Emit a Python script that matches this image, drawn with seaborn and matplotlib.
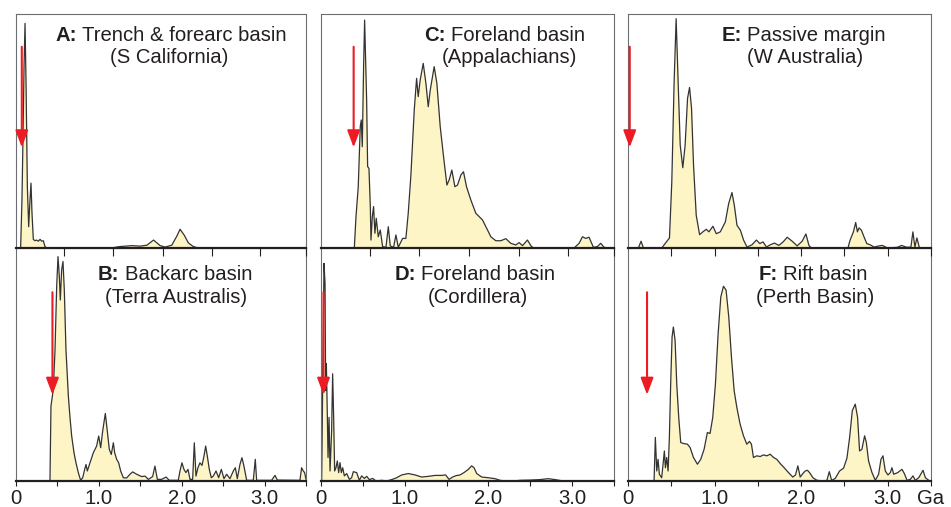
import matplotlib
matplotlib.use("Agg")
import matplotlib.pyplot as plt
import pandas as pd
import seaborn as sns

# ---------------- data (age in Ga, relative probability density) ----------------
age_A = [0.056, 0.072, 0.084, 0.097, 0.109, 0.121, 0.137, 0.153, 0.169, 0.181, 0.193, 0.209,
         0.229, 0.249, 0.27, 0.29, 0.31, 0.33, 0.35, 0.37, 0.6, 1.15, 1.25, 1.4, 1.5, 1.58,
         1.66, 1.74, 1.8, 1.88, 1.94, 1.98, 2.03, 2.08, 2.14, 2.2, 3.5]
dens_A = [0, 0.206, 0.463, 0.777, 0.96, 0.706, 0.263, 0.091, 0.206, 0.277, 0.149, 0.037,
          0.031, 0.034, 0.029, 0.037, 0.029, 0.031, 0.006, 0, 0, 0, 0.006, 0.01, 0.008, 0.012,
          0.034, 0.01, 0.004, 0.012, 0.05, 0.08, 0.055, 0.022, 0.006, 0, 0]

age_B = [0.41, 0.422, 0.45, 0.471, 0.491, 0.507, 0.523, 0.535, 0.551, 0.567, 0.583, 0.603,
         0.632, 0.652, 0.672, 0.7, 0.724, 0.752, 0.78, 0.805, 0.829, 0.845, 0.861, 0.893,
         0.933, 0.973, 0.998, 1.022, 1.046, 1.078, 1.102, 1.126, 1.15, 1.175, 1.191, 1.215,
         1.239, 1.263, 1.295, 1.335, 1.376, 1.408, 1.456, 1.516, 1.557, 1.597, 1.649, 1.677,
         1.706, 1.758, 1.81, 1.85, 1.959, 1.979, 2.003, 2.027, 2.051, 2.076, 2.1, 2.132,
         2.152, 2.172, 2.196, 2.22, 2.245, 2.269, 2.289, 2.309, 2.333, 2.357, 2.381, 2.414,
         2.446, 2.478, 2.51, 2.542, 2.582, 2.623, 2.647, 2.671, 2.703, 2.727, 2.751, 2.784,
         2.864, 2.888, 2.904, 3.085, 3.126, 3.154, 3.427, 3.447, 3.467, 3.483, 3.5]
dens_B = [0, 0.321, 0.392, 0.563, 0.835, 0.963, 0.877, 0.777, 0.906, 0.942, 0.82, 0.563,
          0.364, 0.271, 0.193, 0.121, 0.078, 0.036, 0.003, 0.014, 0.05, 0.071, 0.043, 0.078,
          0.121, 0.15, 0.193, 0.143, 0.214, 0.29, 0.214, 0.136, 0.114, 0.164, 0.121, 0.093,
          0.078, 0.043, 0.014, 0.013, 0.029, 0.039, 0.029, 0.019, 0.021, 0.007, 0.019, 0.064,
          0.007, 0.007, 0.017, 0.003, 0.003, 0.043, 0.078, 0.05, 0.036, 0.05, 0.007, 0.007,
          0.164, 0.021, 0.057, 0.078, 0.067, 0.107, 0.15, 0.107, 0.05, 0.014, 0.021, 0.043,
          0.014, 0.05, 0.01, 0.029, 0.01, 0.043, 0.057, 0.01, 0.071, 0.1, 0.064, 0.003,
          0.003, 0.093, 0.003, 0.003, 0.024, 0.004, 0.003, 0.057, 0.043, 0.036, 0.007]

age_C = [0.398, 0.418, 0.445, 0.469, 0.481, 0.493, 0.509, 0.521, 0.545, 0.557, 0.573, 0.589,
         0.597, 0.613, 0.628, 0.644, 0.66, 0.684, 0.708, 0.736, 0.776, 0.804, 0.827, 0.867,
         0.895, 0.923, 0.975, 1.014, 1.042, 1.074, 1.114, 1.142, 1.161, 1.185, 1.221, 1.253,
         1.281, 1.305, 1.352, 1.384, 1.424, 1.464, 1.504, 1.531, 1.563, 1.599, 1.631, 1.671,
         1.702, 1.738, 1.79, 1.85, 1.929, 1.989, 2.029, 2.088, 2.148, 2.208, 2.267, 2.327,
         2.367, 2.407, 2.466, 2.514, 2.546, 3.023, 3.083, 3.123, 3.162, 3.202, 3.254, 3.302,
         3.341, 3.381, 3.42]
dens_C = [0, 0.134, 0.262, 0.519, 0.547, 0.433, 0.775, 0.974, 0.632, 0.348, 0.34, 0.177,
          0.034, 0.134, 0.177, 0.063, 0.127, 0.048, 0.077, 0.006, 0.003, 0.091, 0.009, 0.003,
          0.056, 0.003, 0.041, 0.041, 0.148, 0.312, 0.59, 0.725, 0.647, 0.718, 0.789, 0.704,
          0.604, 0.675, 0.775, 0.704, 0.519, 0.39, 0.269, 0.291, 0.333, 0.262, 0.269, 0.312,
          0.326, 0.262, 0.205, 0.148, 0.12, 0.077, 0.048, 0.031, 0.031, 0.04, 0.02, 0.013,
          0.023, 0.01, 0.034, 0.006, 0, 0, 0.02, 0.048, 0.041, 0.046, 0.003, 0.006,
          0.02, 0.003, 0]

age_D = [0.008, 0.02, 0.036, 0.048, 0.056, 0.064, 0.076, 0.084, 0.096, 0.108, 0.127, 0.139,
         0.151, 0.163, 0.179, 0.195, 0.211, 0.227, 0.243, 0.259, 0.279, 0.307, 0.339, 0.366,
         0.386, 0.426, 0.458, 0.486, 0.518, 0.546, 0.577, 0.617, 0.657, 0.725, 0.785, 0.844,
         0.904, 0.964, 1.043, 1.123, 1.203, 1.282, 1.362, 1.442, 1.489, 1.529, 1.573, 1.613,
         1.661, 1.708, 1.76, 1.8, 1.828, 1.86, 1.92, 1.999, 2.079, 2.139, 2.198, 2.298,
         2.378, 2.497, 2.616, 2.716, 2.796, 2.895, 3.134, 3.254, 3.5]
dens_D = [0, 0.417, 0.934, 0.848, 0.388, 0.503, 0.273, 0.101, 0.273, 0.043, 0.216, 0.46,
          0.273, 0.043, 0.057, 0.086, 0.036, 0.079, 0.036, 0.057, 0.022, 0.032, 0.007, 0.014,
          0.04, 0.036, 0.003, 0.022, 0.011, 0.02, 0.006, 0.011, 0, 0.003, 0, 0.006,
          0.014, 0.026, 0.032, 0.026, 0.017, 0.02, 0.024, 0.024, 0.026, 0.007, 0.017, 0.023,
          0.026, 0.036, 0.05, 0.065, 0.057, 0.032, 0.017, 0.014, 0.01, 0.003, 0, 0,
          0.003, 0.004, 0.006, 0.01, 0.006, 0, 0, 0.001, 0]

age_E = [0.12, 0.151, 0.178, 0.39, 0.429, 0.479, 0.506, 0.533, 0.556, 0.579, 0.603, 0.633,
         0.66, 0.688, 0.711, 0.734, 0.757, 0.788, 0.827, 0.865, 0.904, 0.935, 0.981, 1.02,
         1.066, 1.124, 1.163, 1.201, 1.228, 1.259, 1.298, 1.336, 1.375, 1.433, 1.483, 1.522,
         1.56, 1.599, 1.645, 1.692, 1.742, 1.792, 1.839, 1.896, 1.954, 2.012, 2.055, 2.09,
         2.117, 2.541, 2.565, 2.604, 2.63, 2.65, 2.669, 2.696, 2.727, 2.758, 2.796, 2.843,
         2.901, 2.939, 2.997, 3.113, 3.159, 3.221, 3.268, 3.291, 3.314, 3.337, 3.364, 3.384]
dens_E = [0, 0.029, 0, 0, 0.019, 0.043, 0.283, 0.711, 0.98, 0.711, 0.44, 0.343,
          0.44, 0.64, 0.686, 0.597, 0.354, 0.14, 0.057, 0.069, 0.08, 0.069, 0.093, 0.061,
          0.069, 0.111, 0.19, 0.237, 0.183, 0.097, 0.076, 0.033, 0.004, 0.014, 0.034, 0.019,
          0.026, 0.004, 0.014, 0.021, 0.011, 0.026, 0.046, 0.029, 0.009, 0.029, 0.06, 0.011,
          0, 0, 0.033, 0.069, 0.109, 0.069, 0.086, 0.076, 0.047, 0.019, 0.014, 0.004,
          0.009, 0.011, 0, 0.003, 0.011, 0.003, 0.004, 0.069, 0.004, 0.043, 0.004, 0]

age_F = [0.301, 0.316, 0.332, 0.347, 0.362, 0.389, 0.409, 0.42, 0.432, 0.447, 0.463, 0.478,
         0.493, 0.509, 0.524, 0.544, 0.563, 0.586, 0.609, 0.64, 0.686, 0.717, 0.756, 0.802,
         0.84, 0.879, 0.917, 0.948, 0.979, 1.01, 1.041, 1.072, 1.103, 1.133, 1.164, 1.195,
         1.226, 1.257, 1.295, 1.334, 1.372, 1.403, 1.426, 1.449, 1.488, 1.527, 1.565, 1.604,
         1.642, 1.681, 1.719, 1.758, 1.804, 1.854, 1.904, 1.935, 1.962, 1.989, 2.02, 2.047,
         2.074, 2.105, 2.136, 2.182, 2.259, 2.298, 2.325, 2.352, 2.394, 2.444, 2.49, 2.529,
         2.56, 2.591, 2.625, 2.652, 2.675, 2.702, 2.733, 2.753, 2.779, 2.818, 2.857, 2.895,
         2.922, 2.945, 2.972, 3.003, 3.03, 3.049, 3.069, 3.115, 3.165, 3.192, 3.223, 3.261,
         3.292, 3.319, 3.358, 3.408, 3.435, 3.474]
dens_F = [0, 0.187, 0.043, 0.093, 0.029, 0.014, 0.086, 0.129, 0.057, 0.101, 0.043, 0.187,
          0.417, 0.618, 0.661, 0.603, 0.417, 0.273, 0.165, 0.161, 0.158, 0.144, 0.101, 0.072,
          0.093, 0.136, 0.208, 0.204, 0.273, 0.417, 0.632, 0.79, 0.836, 0.819, 0.704, 0.532,
          0.388, 0.316, 0.244, 0.194, 0.158, 0.17, 0.158, 0.101, 0.108, 0.105, 0.112, 0.108,
          0.115, 0.101, 0.093, 0.075, 0.057, 0.036, 0.017, 0.026, 0.065, 0.017, 0.032, 0.043,
          0.046, 0.032, 0.014, 0.003, 0, 0.003, 0.04, 0.003, 0.011, 0.043, 0.055, 0.098,
          0.187, 0.302, 0.33, 0.273, 0.129, 0.136, 0.194, 0.165, 0.086, 0.036, 0.003, 0.029,
          0.093, 0.108, 0.043, 0.026, 0.036, 0.057, 0.029, 0.036, 0.05, 0.032, 0.003, 0.007,
          0.022, 0.003, 0.014, 0.046, 0.014, 0.003]

panel_letters = ["A", "B", "C", "D", "E", "F"]
panel_names = ["Trench & forearc basin", "Backarc basin", "Foreland basin",
               "Foreland basin", "Passive margin", "Rift basin"]
panel_regions = ["(S California)", "(Terra Australis)", "(Appalachians)",
                 "(Cordillera)", "(W Australia)", "(Perth Basin)"]
arrow_ages = [0.07, 0.44, 0.39, 0.03, 0.02, 0.22]
bottom_tick_labels = ["0", "", "1.0", "", "2.0", "", "3.0", ""]
bottom_ticks = [0, 0.5, 1.0, 1.5, 2.0, 2.5, 3.0, 3.5]
top_ticks_AC = [0.58, 1.17, 1.77, 2.36, 2.95, 3.5]
top_ticks_E = [0.5, 1.0, 1.5, 2.0, 2.5, 3.0, 3.5]

ages = [age_A, age_B, age_C, age_D, age_E, age_F]
dens = [dens_A, dens_B, dens_C, dens_D, dens_E, dens_F]

# ---------------- style ----------------
sns.set_style("white")
plt.rcParams["font.family"] = ["Liberation Sans", "DejaVu Sans"]

TXT = "#231f20"
FILL = "#fdf5c6"
LINE = "#333333"
RED = "#ec1c24"
FS = 14.6

W, H = 951, 507
fig = plt.figure(figsize=(W / 100, H / 100), dpi=100)

col_x = [16, 321, 628]
col_w = [290, 293, 303]
row_top = [14, 248]
row_h = [234, 233]

# layout of titles: (x of split after bold part, x centre of line 2) in axes fraction
title_split = [0.209, 0.357, 0.425, 0.323, 0.375, 0.493]
title2_x = [0.528, 0.552, 0.642, 0.536, 0.583, 0.617]

# draw bottom row first so top-row ticks overlay it
order = [1, 3, 5, 0, 2, 4]
for i in order:
    col = i // 2
    row = i % 2
    left = col_x[col] / W
    width = col_w[col] / W
    bottom = 1 - (row_top[row] + row_h[row]) / H
    height = row_h[row] / H
    ax = fig.add_axes([left, bottom, width, height])
    ax.patch.set_alpha(0)

    df = pd.DataFrame({"age": ages[i], "density": dens[i]})
    ax.fill_between(df["age"], df["density"], 0, color=FILL, lw=0, zorder=1)
    sns.lineplot(data=df, x="age", y="density", ax=ax, color=LINE, lw=0.9,
                 estimator=None, sort=False, zorder=2)

    ax.set_xlim(0, 3.5)
    ax.set_ylim(0, 1.0)
    ax.set_xlabel("")
    ax.set_ylabel("")
    ax.set_yticks([])

    for s in ["left", "right", "top"]:
        ax.spines[s].set_color("#6d6e71")
        ax.spines[s].set_linewidth(0.8)
        ax.spines[s].set_visible(True)
    ax.spines["bottom"].set_color(TXT)
    ax.spines["bottom"].set_linewidth(1.6)
    ax.spines["bottom"].set_visible(True)
    ax.spines["bottom"].set_zorder(5)

    if row == 1:
        ax.set_xticks(bottom_ticks)
        labels = list(bottom_tick_labels)
        if i == 5:
            labels[-1] = "Ga"
        ax.set_xticklabels(labels)
        ax.tick_params(axis="x", direction="out", length=3.5, width=0.8, colors=TXT,
                       labelsize=FS, pad=2, bottom=True)
    else:
        ax.set_xticks(top_ticks_E if i == 4 else top_ticks_AC)
        ax.set_xticklabels([])
        ax.tick_params(axis="x", direction="out", length=5.5, width=0.8, colors=TXT,
                       bottom=True)

    # titles
    y1 = 0.885 if row == 0 else 0.863
    y2 = 0.79 if row == 0 else 0.764
    ax.text(title_split[i], y1, panel_letters[i] + ":", transform=ax.transAxes,
            ha="right", va="baseline", fontsize=FS, fontweight="bold", color=TXT)
    ax.annotate(panel_names[i], xy=(title_split[i], y1), xycoords="axes fraction",
                xytext=(4.1, 0), textcoords="offset points", ha="left", va="baseline",
                fontsize=FS, color=TXT)
    ax.text(title2_x[i], y2, panel_regions[i], transform=ax.transAxes,
            ha="center", va="baseline", fontsize=FS, color=TXT)

    # red arrows
    top_y = 0.86 if row == 0 else 0.81
    tip_y = 0.43 if row == 0 else 0.37
    ax.annotate("", xy=(arrow_ages[i], tip_y), xytext=(arrow_ages[i], top_y),
                xycoords=("data", "axes fraction"), textcoords=("data", "axes fraction"),
                arrowprops=dict(arrowstyle="-|>,head_length=0.85,head_width=0.32",
                                color=RED, lw=1.5, shrinkA=0, shrinkB=0,
                                mutation_scale=12), zorder=6)

fig.savefig("out.png", dpi=100, facecolor="white")
